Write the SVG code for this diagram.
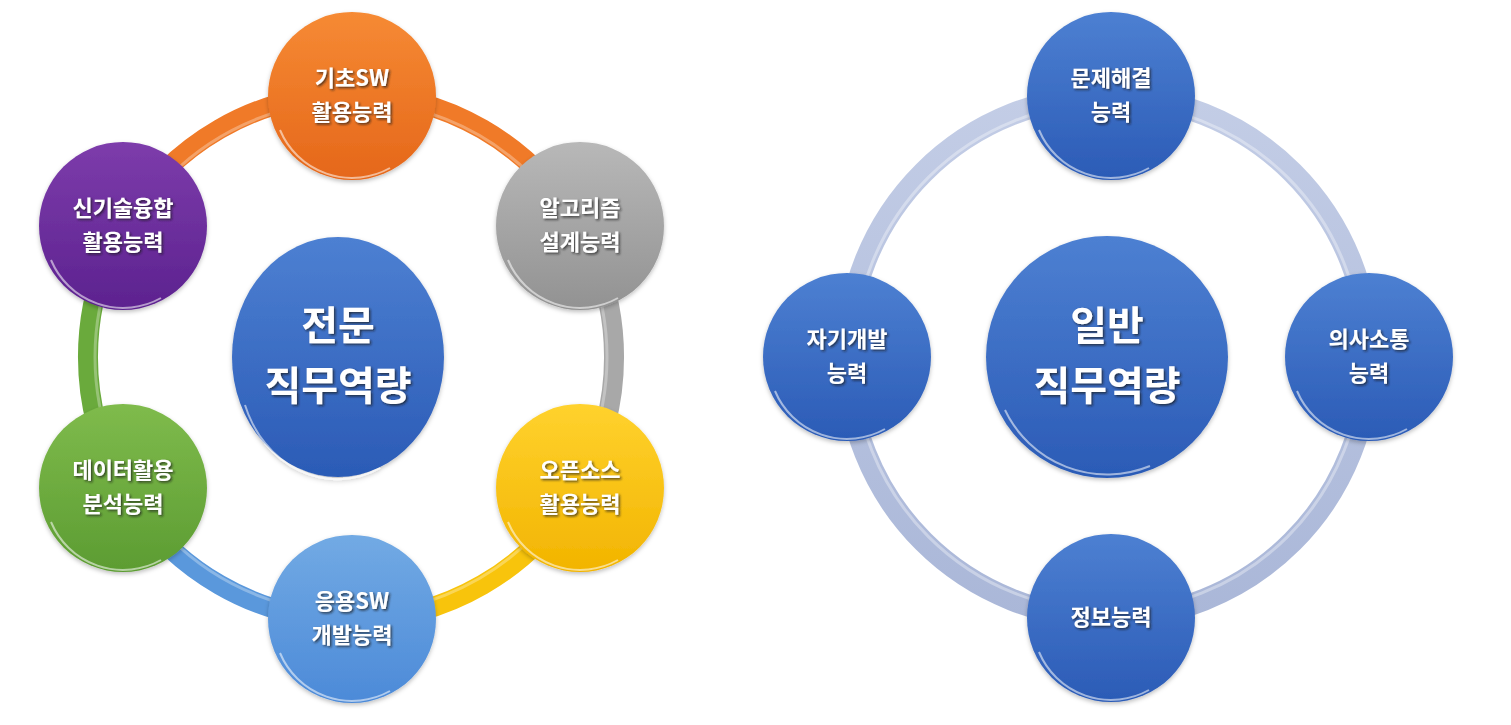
<svg xmlns="http://www.w3.org/2000/svg" width="1511" height="725" viewBox="0 0 1511 725">
<defs>
<filter id="ts" x="-20%" y="-20%" width="140%" height="140%"><feDropShadow dx="1.5" dy="1.5" stdDeviation="1" flood-color="#1a1a1a" flood-opacity="0.75"/></filter>
<filter id="cs" x="-20%" y="-20%" width="140%" height="140%"><feDropShadow dx="0" dy="2" stdDeviation="2" flood-color="#000" flood-opacity="0.25"/></filter>
<linearGradient id="gOr" x1="0" y1="0" x2="0" y2="1"><stop offset="0" stop-color="#f68a34"/><stop offset="1" stop-color="#e5671a"/></linearGradient>
<linearGradient id="gGy" x1="0" y1="0" x2="0" y2="1"><stop offset="0" stop-color="#b8b8b8"/><stop offset="1" stop-color="#929292"/></linearGradient>
<linearGradient id="gYe" x1="0" y1="0" x2="0" y2="1"><stop offset="0" stop-color="#ffd22e"/><stop offset="1" stop-color="#f2b400"/></linearGradient>
<linearGradient id="gLb" x1="0" y1="0" x2="0" y2="1"><stop offset="0" stop-color="#72aae4"/><stop offset="1" stop-color="#4c8ad8"/></linearGradient>
<linearGradient id="gGr" x1="0" y1="0" x2="0" y2="1"><stop offset="0" stop-color="#7fbb4c"/><stop offset="1" stop-color="#5c9c32"/></linearGradient>
<linearGradient id="gPu" x1="0" y1="0" x2="0" y2="1"><stop offset="0" stop-color="#7d3cab"/><stop offset="1" stop-color="#5c228f"/></linearGradient>
<linearGradient id="gBl" x1="0" y1="0" x2="0" y2="1"><stop offset="0" stop-color="#4d80d2"/><stop offset="1" stop-color="#2b5bb6"/></linearGradient>
<linearGradient id="gRing" x1="0" y1="0" x2="0" y2="1"><stop offset="0" stop-color="#c3cde6"/><stop offset="1" stop-color="#aab7d8"/></linearGradient>
</defs>
<style>
.lbl{font-family:"Noto Sans CJK KR","Noto Sans",sans-serif;font-weight:bold;font-size:22px;fill:#ffffff;text-anchor:middle;filter:url(#ts)}
.big{font-family:"Noto Sans CJK KR","Noto Sans",sans-serif;font-weight:bold;font-size:40px;fill:#ffffff;text-anchor:middle;filter:url(#ts)}
.arc{fill:none;stroke-width:20}
.hl{fill:none;stroke:#ffffff;stroke-opacity:0.55;stroke-width:2}
.node{filter:url(#cs)}
</style>

<g id="connectors">
<path class="arc" stroke="#f07a28" d="M123.2,225.5 A263,263 0 0 1 578.8,225.5"/>
<path class="arc" stroke="#a8a8a8" d="M578.8,225.5 A263,263 0 0 1 578.8,488.5"/>
<path class="arc" stroke="#f8c40c" d="M578.8,488.5 A263,263 0 0 1 351,620"/>
<path class="arc" stroke="#5a98dc" d="M351,620 A263,263 0 0 1 123.2,488.5"/>
<path class="arc" stroke="#6aaa3c" d="M123.2,488.5 A263,263 0 0 1 123.2,225.5"/>
<circle cx="351" cy="357" r="256" fill="none" stroke="#ffffff" stroke-opacity="0.3" stroke-width="3"/>
<circle cx="1108" cy="357" r="261" fill="none" stroke="url(#gRing)" stroke-width="22"/>
<circle cx="1108" cy="357" r="254" fill="none" stroke="#ffffff" stroke-opacity="0.35" stroke-width="3"/>
</g>

<g id="center-left" class="node">
<ellipse cx="338" cy="357" rx="106" ry="120" fill="url(#gBl)"/>
<path class="hl" d="M245,405 A98,112 0 0 0 380,468"/>
<text class="big" x="338" y="340">전문</text>
<text class="big" x="338" y="400">직무역량</text>
</g>

<g id="node-basic-sw" class="node">
<circle cx="352" cy="96" r="84" fill="url(#gOr)"/>
<path class="hl" d="M280,130 A78,78 0 0 0 390,168"/>
<text class="lbl" x="352" y="86">기초SW</text>
<text class="lbl" x="352" y="120">활용능력</text>
</g>

<g id="node-algorithm" class="node">
<circle cx="580" cy="226" r="84" fill="url(#gGy)"/>
<path class="hl" d="M508,260 A78,78 0 0 0 618,298"/>
<text class="lbl" x="580" y="216">알고리즘</text>
<text class="lbl" x="580" y="250">설계능력</text>
</g>

<g id="node-opensource" class="node">
<circle cx="580" cy="488" r="84" fill="url(#gYe)"/>
<path class="hl" d="M508,522 A78,78 0 0 0 618,560"/>
<text class="lbl" x="580" y="478">오픈소스</text>
<text class="lbl" x="580" y="512">활용능력</text>
</g>

<g id="node-applied-sw" class="node">
<circle cx="352" cy="619" r="84" fill="url(#gLb)"/>
<path class="hl" d="M280,653 A78,78 0 0 0 390,691"/>
<text class="lbl" x="352" y="609">응용SW</text>
<text class="lbl" x="352" y="643">개발능력</text>
</g>

<g id="node-data" class="node">
<circle cx="123" cy="488" r="84" fill="url(#gGr)"/>
<path class="hl" d="M51,522 A78,78 0 0 0 161,560"/>
<text class="lbl" x="123" y="478">데이터활용</text>
<text class="lbl" x="123" y="512">분석능력</text>
</g>

<g id="node-newtech" class="node">
<circle cx="123" cy="226" r="84" fill="url(#gPu)"/>
<path class="hl" d="M51,260 A78,78 0 0 0 161,298"/>
<text class="lbl" x="123" y="216">신기술융합</text>
<text class="lbl" x="123" y="250">활용능력</text>
</g>

<g id="center-right" class="node">
<circle cx="1107" cy="357" r="121" fill="url(#gBl)"/>
<path class="hl" d="M1005,410 A113,113 0 0 0 1150,466"/>
<text class="big" x="1107" y="340">일반</text>
<text class="big" x="1107" y="400">직무역량</text>
</g>

<g id="node-problem" class="node">
<circle cx="1111" cy="96" r="84" fill="url(#gBl)"/>
<path class="hl" d="M1039,130 A78,78 0 0 0 1149,168"/>
<text class="lbl" x="1111" y="86">문제해결</text>
<text class="lbl" x="1111" y="120">능력</text>
</g>

<g id="node-communication" class="node">
<circle cx="1369" cy="357" r="84" fill="url(#gBl)"/>
<path class="hl" d="M1297,391 A78,78 0 0 0 1407,429"/>
<text class="lbl" x="1369" y="347">의사소통</text>
<text class="lbl" x="1369" y="381">능력</text>
</g>

<g id="node-information" class="node">
<circle cx="1111" cy="618" r="84" fill="url(#gBl)"/>
<path class="hl" d="M1039,652 A78,78 0 0 0 1149,690"/>
<text class="lbl" x="1111" y="625">정보능력</text>
</g>

<g id="node-selfdev" class="node">
<circle cx="847" cy="357" r="84" fill="url(#gBl)"/>
<path class="hl" d="M775,391 A78,78 0 0 0 885,429"/>
<text class="lbl" x="847" y="347">자기개발</text>
<text class="lbl" x="847" y="381">능력</text>
</g>
</svg>
